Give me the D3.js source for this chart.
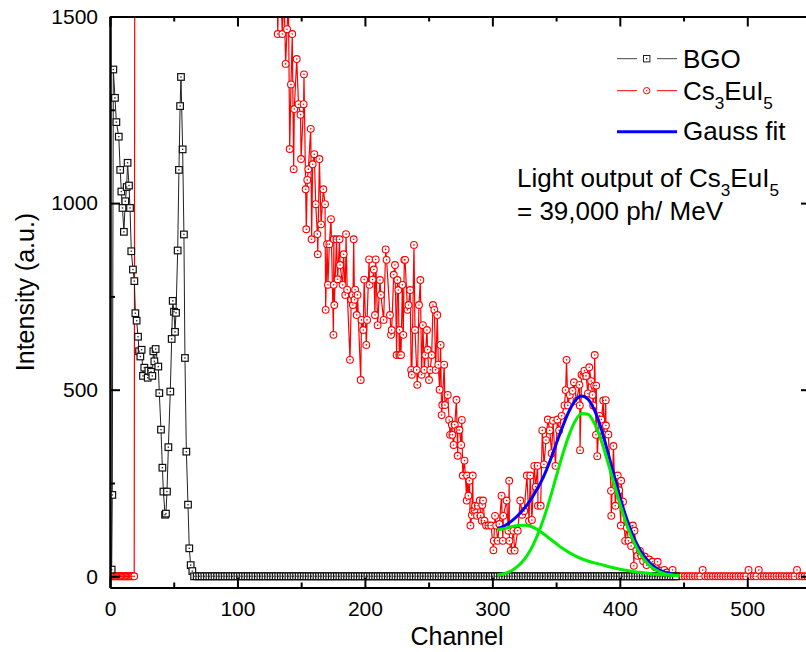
<!DOCTYPE html>
<html><head><meta charset="utf-8">
<script src="https://cdn.jsdelivr.net/npm/d3@7"></script>
<style>
body{margin:0;background:#fff;}
text{font-family:"Liberation Sans", Arial, sans-serif;fill:#000;}
</style>
</head><body>
<svg id="chart" width="806" height="652"></svg>
<script>
// ---------------- DATA ----------------
const xTicksMajor = [0,100,200,300,400,500];
const xTicksMinor = [50,150,250,350,450,550];
const yTicksMajor = [0,500,1000,1500];
const yTicksMinor = [250,750,1250];

// BGO spectrum, peak region (channel, intensity)
const bgoChannel = [1.3,1.8,2.6,3.9,5.0,6.9,8.0,8.9,9.8,10.9,12.0,13.1,13.8,14.9,15.7,16.7,18.0,19.1,19.9,20.9,22.0,22.8,23.8,24.8,25.9,26.9,29.6,30.1,32.2,33.2,34.0,34.8,35.8,37.9,38.7,40.0,41.1,41.9,43.2,43.9,44.7,45.8,47.3,48.4,49.2,50.2,51.0,51.8,53.1,54.1,55.0,55.7,57.0,58.0,58.8,59.9,61.2,62.2,63.3,64.6];
const bgoValue   = [18,218,1358,1282,1217,1178,1089,1031,987,923,1005,1043,1108,1047,987,871,822,791,705,685,642,603,589,607,537,559,532,551,548,537,603,576,609,562,491,393,291,227,165,168,227,346,495,636,738,709,655,706,873,1089,1260,1338,1144,916,585,334,192,75,30,14];
// BGO flat tail: first channel 66, every 2 channels
const bgoTailStart = 66, bgoTailStep = 2;
const bgoTailValue = [0,0,0,0,0,0,0,0,0,0,0,0,0,0,0,0,0,0,0,0,0,0,0,0,0,0,0,0,0,0,0,0,0,0,0,0,0,0,0,0,0,0,0,0,0,0,0,0,0,0,0,0,0,0,0,0,0,0,0,0,0,0,0,0,0,0,0,0,0,0,0,0,0,0,0,0,0,0,0,0,0,0,0,0,0,0,0,0,0,0,0,0,0,0,0,0,0,0,0,0,0,0,0,0,0,0,0,0,0,0,0,0,0,0,0,0,0,0,0,0,0,0,0,0,0,0,0,0,0,0,0,0,0,0,0,0,0,0,0,0,0,0,0,0,0,0,0,0,0,0,0,0,0,0,0,0,0,0,0,0,0,0,0,0,0,0,0,0,0,0,0,0,0,0,0,0,0,0,0,0,0,0,0,0,0,0,0,0,0,0];

// Cs3EuI5 spectrum (channel, intensity); values above 1500 run off the top of the plot
const csChannel = [0,1,2,3,4,5,6,7,8,9,10,11,12,13,14,15,16,17,18,19,
 20,60,100,128,130.5,
 131.6,133.0,135.2,136.5,137.8,138.9,140.0,141.0,142.0,143.0,144.1,144.6,146.5,147.9,149.5,149.9,151.9,152.2,153.5,154.0,154.8,155.6,157.5,158.2,159.0,160.3,161.4,162.7,163.0,164.3,165.6,167.4,168.7,169.2,170.3,171.0,172.1,173.4,175.3,175.5,175.6,176.0,177.7,178.6,180.1,180.5,182.5,183.3,184.6,185.2,186.1,188.3,189.3,190.3,190.6,191.2,191.8,192.3,193.6,194.2,196.7,197.3,198.7,199.4,201.1,201.7,203.3,203.6,206.0,207.0,207.9,208.5,210.0,211.8,212.5,214.7,216.3,217.0,219.7,220.5,221.0,222.6,223.6,224.9,225.5,226.2,227.0,227.2,228.3,229.4,230.1,230.9,231.5,233.4,234.2,235.5,236.3,236.8,238.5,239.3,240.6,241.1,242.4,243.5,244.5,245.5,246.6,247.4,248.7,249.2,250.3,251.3,252.4,253.4,254.5,255.5,256.8,257.6,258.6,259.4,260.2,260.7,262.2,262.8,265.0,266.1,266.8,268.2,268.6,269.6,270.5,271.8,272.8,272.9,274.2,275.5,276.0,276.8,278.1,279.9,280.2,281.2,282.0,282.8,283.9,284.6,284.9,286.0,286.5,288.0,288.6,290.1,290.7,291.7,292.1,292.7,293.8,295.1,296.9,299.0,300.8,301.1,302.1,303.0,304.2,305.5,307.2,308.2,308.6,311.2,312.6,313.2,313.4,314.5,316.5,317.5,319.9,321.9,323.5,325.0,327.1,328.8,329.7,331.0,332.9,334.0,335.5,335.8,337.9,339.2,340.5,342.1,343.5,345.0,346.5,347.6,349.5,351.0,352.4,354.4,356.6,357.5,358.2,359.2,360.8,362.9,364.0,366.0,368.3,368.6,368.8,370.0,371.4,372.2,373.5,375.0,376.0,377.5,378.6,379.1,379.9,380.3,381.3,381.5,382.3,384.0,385.5,387.0,387.5,389.0,389.1,391.0,393.1,393.3,395.0,396.5,398.3,399.5,400.8,401.0,402.5,404.2,405.5,406.8,408.9,409.6,410.2,411.0,411.5,413.0,413.8,415.8,416.9,418.3,419.5,421.0,423.0,425.7,427.5,429.7,432.0,434.9,437.0,439.0,441.4,443.0];
const csValue = [0,0,0,0,0,0,0,0,0,0,0,0,0,0,0,0,0,0,0,0,
 4000,6000,4000,2000,1800,
 1453,1650,1453,1560,1373,1466,1540,1145,1318,1453,1091,1252,1386,1265,1237,1118,1265,1345,1037,930,1062,1091,1199,903,1104,1131,997,917,863,1118,943,1037,997,714,890,781,890,957,647,781,903,727,903,796,903,834,781,863,754,917,768,580,741,754,727,903,741,768,700,754,526,687,660,795,620,687,849,781,795,822,700,849,673,794,754,687,876,848,700,647,660,808,834,593,794,767,593,660,593,781,647,848,848,714,727,767,553,540,888,660,553,513,727,794,540,673,553,593,660,607,526,553,593,727,714,553,700,567,500,620,432,459,567,459,486,419,379,406,379,352,406,473,323,392,392,352,419,270,310,203,270,216,256,136,164,270,176,178,189,162,189,203,162,149,191,203,149,136,136,136,70,95,162,136,95,140,216,95,162,203,122,256,95,69,122,69,122,203,165,175,270,148,270,151,296,240,296,189,189,391,300,365,420,391,330,417,296,420,391,430,458,499,580,458,486,497,520,470,513,458,338,540,537,551,537,490,560,523,486,458,511,593,379,511,322,430,420,471,379,472,404,380,229,162,349,189,270,230,136,256,200,95,130,95,81,135,136,28,122,69,55,68,55,41,53,30,45,39,25,39,15,17,10,5,17,0];
// Cs3EuI5 flat tail: first channel 445, every 2 channels
const csTailStart = 445, csTailStep = 2;
const csTailValue = [0,0,0,0,0,0,0,0,0,0,17,0,0,0,0,0,0,0,0,0,0,0,0,0,0,0,0,0,17,0,0,0,17,0,0,0,0,0,0,0,0,0,0,0,0,0,0,17,0,0,0,0,0];

// Gauss fit (two components and their sum)
const fitChannel = [304,310,315,320,325,330,335,340,345,350,355,360,365,370,375,380,385,390,395,400,405,410,415,420,425,430,435,440,447];
const gauss1   = [125,128,133,136,137,134,126,114,101,88,75,64,55,47,41,36,32,27,23,19,16,13,11,9,7,5,4,3,2];
const gauss2   = [3,8,15,27,45,71,107,152,206,266,325,377,416,436,434,410,368,313,254,195,142,99,65,41,24,14,7,4,1];
const gaussSum = [128,136,148,163,182,205,233,266,307,354,400,441,471,483,475,446,400,340,277,214,158,112,76,50,31,19,11,7,3];

// ---------------- DRAWING ----------------
const svg = d3.select("#chart");
const L = 110, R = 811, T = 16.5, B = 587.5;
const x = d3.scaleLinear().domain([0,550]).range([L,R]);
const y = d3.scaleLinear().domain([-30,1500]).range([B,T]);

svg.append("defs").append("clipPath").attr("id","plotclip")
  .append("rect").attr("x",L).attr("y",T).attr("width",R-L).attr("height",B-T);

const bgo = bgoChannel.map((c,i)=>({c, v:bgoValue[i]}))
  .concat(bgoTailValue.map((v,i)=>({c:bgoTailStart+i*bgoTailStep, v})));
const cs = csChannel.map((c,i)=>({c, v:csValue[i]}))
  .concat(csTailValue.map((v,i)=>({c:csTailStart+i*csTailStep, v})));

const line = d3.line().x(d=>x(d.c)).y(d=>y(d.v));
const plot = svg.append("g").attr("clip-path","url(#plotclip)");

// Cs3EuI5 (red)
plot.append("path").datum(cs).attr("d",line)
  .attr("fill","none").attr("stroke","#ff0000").attr("stroke-width",1.2);
const csVisible = cs.filter(d=>d.v<=1500);
plot.append("g").selectAll("circle").data(csVisible).join("circle")
  .attr("cx",d=>x(d.c)).attr("cy",d=>y(d.v)).attr("r",3.4)
  .attr("fill","#fff").attr("stroke","#ff0000").attr("stroke-width",1.1);
plot.append("g").selectAll("circle").data(csVisible).join("circle")
  .attr("cx",d=>x(d.c)).attr("cy",d=>y(d.v)).attr("r",0.8).attr("fill","#ff0000");

// BGO (black)
plot.append("path").datum(bgo).attr("d",line)
  .attr("fill","none").attr("stroke","#222").attr("stroke-width",1);
const sq = 6.6;
plot.append("g").selectAll("rect").data(bgo).join("rect")
  .attr("x",d=>x(d.c)-sq/2).attr("y",d=>y(d.v)-sq/2).attr("width",sq).attr("height",sq)
  .attr("fill","#fff").attr("stroke","#111").attr("stroke-width",1.2);
plot.append("g").selectAll("rect").data(bgo).join("rect")
  .attr("x",d=>x(d.c)-0.7).attr("y",d=>y(d.v)-0.7).attr("width",1.4).attr("height",1.4)
  .attr("fill","#333");

// Gauss fit curves
const fitLine = arr => d3.line().curve(d3.curveMonotoneX)
  .x((d,i)=>x(fitChannel[i])).y(d=>y(d))(arr);
plot.append("path").attr("d",fitLine(gaussSum)).attr("fill","none")
  .attr("stroke","#0000ff").attr("stroke-width",3);
plot.append("path").attr("d",fitLine(gauss1)).attr("fill","none")
  .attr("stroke","#00ee00").attr("stroke-width",3);
plot.append("path").attr("d",fitLine(gauss2)).attr("fill","none")
  .attr("stroke","#00ee00").attr("stroke-width",3);

// Axes
function styleAxis(g){
  g.select(".domain").attr("stroke","#000").attr("stroke-width",2);
  g.selectAll(".tick line").attr("stroke","#000").attr("stroke-width",2);
  g.selectAll(".tick text").attr("font-size","21px").attr("font-family","Liberation Sans, Arial, sans-serif").attr("fill","#000");
}
svg.append("g").attr("transform",`translate(0,${B})`)
  .call(d3.axisBottom(x).tickValues(xTicksMajor).tickSize(-10).tickSizeOuter(0).tickPadding(14).tickFormat(d3.format("d")))
  .call(styleAxis);
svg.append("g").attr("transform",`translate(0,${B})`)
  .call(d3.axisBottom(x).tickValues(xTicksMinor).tickSize(-5).tickSizeOuter(0).tickFormat(""))
  .call(styleAxis);
svg.append("g").attr("transform",`translate(0,${T})`)
  .call(d3.axisTop(x).tickValues(xTicksMajor).tickSize(-10).tickSizeOuter(0).tickFormat(""))
  .call(styleAxis);
svg.append("g").attr("transform",`translate(0,${T})`)
  .call(d3.axisTop(x).tickValues(xTicksMinor).tickSize(-5).tickSizeOuter(0).tickFormat(""))
  .call(styleAxis);
svg.append("g").attr("transform",`translate(${L},0)`)
  .call(d3.axisLeft(y).tickValues(yTicksMajor).tickSize(-10).tickSizeOuter(0).tickPadding(12).tickFormat(d3.format("d")))
  .call(styleAxis);
svg.append("g").attr("transform",`translate(${L},0)`)
  .call(d3.axisLeft(y).tickValues(yTicksMinor).tickSize(-5).tickSizeOuter(0).tickFormat(""))
  .call(styleAxis);
svg.append("g").attr("transform",`translate(${R},0)`)
  .call(d3.axisRight(y).tickValues(yTicksMajor).tickSize(-10).tickSizeOuter(0).tickFormat(""))
  .call(styleAxis);
svg.append("g").attr("transform",`translate(${R},0)`)
  .call(d3.axisRight(y).tickValues(yTicksMinor).tickSize(-5).tickSizeOuter(0).tickFormat(""))
  .call(styleAxis);

// Axis titles
svg.append("text").attr("x",457).attr("y",645).attr("text-anchor","middle")
  .attr("font-size","25px").text("Channel");
svg.append("text").attr("transform","translate(34,292) rotate(-90)").attr("text-anchor","middle")
  .attr("font-size","25px").text("Intensity (a.u.)");

// Legend
const lg = svg.append("g");
function subText(g, xx, yy, parts, fs){
  const t = g.append("text").attr("x",xx).attr("y",yy).attr("font-size",fs+"px");
  parts.forEach(p=>{
    if(p.sub){
      t.append("tspan").attr("font-size",(fs*0.66)+"px").attr("dy",9).text(p.t);
    } else {
      t.append("tspan").attr("dy",p.after?-9:0).text(p.t);
    }
  });
  return t;
}
// BGO row
lg.append("line").attr("x1",617).attr("x2",637).attr("y1",58.7).attr("y2",58.7).attr("stroke","#444").attr("stroke-width",1);
lg.append("line").attr("x1",657).attr("x2",677).attr("y1",58.7).attr("y2",58.7).attr("stroke","#444").attr("stroke-width",1);
lg.append("rect").attr("x",646.7-3.2).attr("y",58.7-3.2).attr("width",6.4).attr("height",6.4).attr("fill","#fff").attr("stroke","#222");
lg.append("rect").attr("x",646.7-0.7).attr("y",58.7-0.7).attr("width",1.4).attr("height",1.4).attr("fill","#333");
lg.append("text").attr("x",683).attr("y",68).attr("font-size","26px").text("BGO");
// Cs row
lg.append("line").attr("x1",617).attr("x2",637).attr("y1",90.7).attr("y2",90.7).attr("stroke","#ff0000").attr("stroke-width",1);
lg.append("line").attr("x1",657).attr("x2",677).attr("y1",90.7).attr("y2",90.7).attr("stroke","#ff0000").attr("stroke-width",1);
lg.append("circle").attr("cx",646.7).attr("cy",90.7).attr("r",3.2).attr("fill","#fff").attr("stroke","#ff0000");
lg.append("circle").attr("cx",646.7).attr("cy",90.7).attr("r",0.7).attr("fill","#ff0000");
subText(lg, 683, 100, [{t:"Cs"},{t:"3",sub:true},{t:"EuI",after:true},{t:"5",sub:true}], 26);
// Gauss row
lg.append("line").attr("x1",617).attr("x2",677).attr("y1",131.7).attr("y2",131.7).attr("stroke","#0000ff").attr("stroke-width",3);
lg.append("text").attr("x",683).attr("y",140).attr("font-size","26px").text("Gauss fit");

// Annotation
subText(svg, 517, 187, [{t:"Light output of Cs"},{t:"3",sub:true},{t:"EuI",after:true},{t:"5",sub:true}], 26);
svg.append("text").attr("x",517).attr("y",220).attr("font-size","26px").text("= 39,000 ph/ MeV");
</script>
</body></html>
